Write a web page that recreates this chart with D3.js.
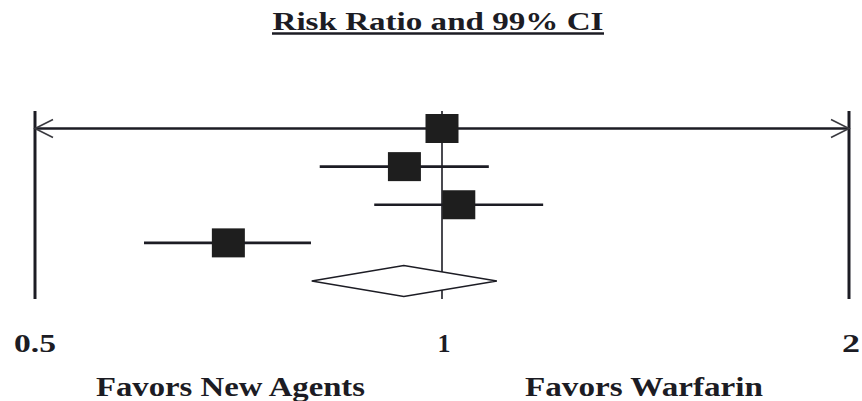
<!DOCTYPE html>
<html>
<head>
<meta charset="utf-8">
<script src="https://cdn.jsdelivr.net/npm/d3@7"></script>
<style>
  html, body { margin: 0; padding: 0; background: #fff; }
  svg { display: block; }
  text { font-family: "Liberation Serif", "Times New Roman", serif; font-weight: bold; fill: #1c1c24; }
</style>
</head>
<body>
<svg id="chart" width="862" height="401"></svg>
<script>
// Study rows: point estimate and 99% CI of the risk ratio
const studies   = ["Study 1", "Study 2", "Study 3", "Study 4"];
const rr        = [1.00, 0.938, 1.029, 0.695];
const ciLow     = [0.42, 0.812, 0.891, 0.602];
const ciHigh    = [2.40, 1.083, 1.188, 0.800];

// Pooled estimate (diamond)
const pooled    = [0.937];
const pooledLow = [0.801];
const pooledHigh= [1.098];

// Axis ticks and captions
const tickValues = [0.5, 1, 2];
const tickLabels = ["0.5", "1", "2"];
const titleText  = "Risk Ratio and 99% CI";
const sideLabels = ["Favors New Agents", "Favors Warfarin"];

const svg = d3.select("#chart");
const ink = "#1c1c24";

const x = d3.scaleLog().domain([0.5, 2]).range([35, 849]);
const rows = studies.concat(["Pooled"]);
const y = d3.scalePoint().domain(rows).range([128.5, 281]);
const yTop = 111, yBottom = 299;

// Title with underline
svg.append("text")
  .attr("x", 438).attr("y", 30)
  .attr("text-anchor", "middle")
  .attr("font-size", 26)
  .attr("textLength", 331).attr("lengthAdjust", "spacingAndGlyphs")
  .text(titleText);
svg.append("line")
  .attr("x1", 272).attr("x2", 604).attr("y1", 33.5).attr("y2", 33.5)
  .attr("stroke", ink).attr("stroke-width", 2.5);

// Boundary lines at the axis limits
svg.selectAll("line.bound").data([0.5, 2]).enter().append("line")
  .attr("class", "bound")
  .attr("x1", d => x(d)).attr("x2", d => x(d))
  .attr("y1", yTop).attr("y2", yBottom)
  .attr("stroke", ink).attr("stroke-width", 3);

// Line of no effect
svg.append("line")
  .attr("x1", x(1)).attr("x2", x(1))
  .attr("y1", yTop).attr("y2", yBottom)
  .attr("stroke", ink).attr("stroke-width", 1.6);

const [dLo, dHi] = x.domain();
const data = studies.map((s, i) => ({ s, rr: rr[i], lo: ciLow[i], hi: ciHigh[i] }));

// Confidence intervals, clipped to the axis range
svg.selectAll("line.ci").data(data).enter().append("line")
  .attr("class", "ci")
  .attr("x1", d => x(Math.max(d.lo, dLo)))
  .attr("x2", d => x(Math.min(d.hi, dHi)))
  .attr("y1", d => y(d.s)).attr("y2", d => y(d.s))
  .attr("stroke", ink).attr("stroke-width", 2.6);

// Open arrowheads where an interval runs past the axis
const arrows = [];
data.forEach(d => {
  if (d.lo < dLo) arrows.push({ s: d.s, v: dLo, dir: 1 });
  if (d.hi > dHi) arrows.push({ s: d.s, v: dHi, dir: -1 });
});
svg.selectAll("path.arrow").data(arrows).enter().append("path")
  .attr("class", "arrow")
  .attr("d", d => {
    const px = x(d.v), py = y(d.s);
    return `M${px + d.dir * 18},${py - 9}L${px},${py}L${px + d.dir * 18},${py + 9}`;
  })
  .attr("fill", "none").attr("stroke", "#3a3a40").attr("stroke-width", 1.6);

// Point estimates
const sqW = 33, sqH = 29;
svg.selectAll("rect.pt").data(data).enter().append("rect")
  .attr("class", "pt")
  .attr("x", d => x(d.rr) - sqW / 2)
  .attr("y", d => y(d.s) - sqH / 2)
  .attr("width", sqW).attr("height", sqH)
  .attr("fill", "#1e1e1e");

// Pooled diamond
const py = y("Pooled"), half = 15.5;
svg.append("path")
  .attr("d", `M${x(pooledLow[0])},${py}L${x(pooled[0])},${py - half}L${x(pooledHigh[0])},${py}L${x(pooled[0])},${py + half}Z`)
  .attr("fill", "#fff").attr("stroke", ink).attr("stroke-width", 1.3);

// Tick labels
const tickWidths = [42, null, 18];
const tickShift  = [0, 2, 2];
svg.selectAll("text.tick").data(tickValues).enter().append("text")
  .attr("class", "tick")
  .attr("x", (d, i) => x(d) + tickShift[i])
  .attr("y", 352)
  .attr("text-anchor", "middle")
  .attr("font-size", 26)
  .each(function (d, i) {
    if (tickWidths[i]) {
      d3.select(this).attr("textLength", tickWidths[i]).attr("lengthAdjust", "spacingAndGlyphs");
    }
  })
  .text((d, i) => tickLabels[i]);

// Direction captions
svg.selectAll("text.side").data(sideLabels).enter().append("text")
  .attr("class", "side")
  .attr("x", (d, i) => [230.5, 644][i])
  .attr("y", 396)
  .attr("text-anchor", "middle")
  .attr("font-size", 27)
  .attr("textLength", (d, i) => [269, 238][i])
  .attr("lengthAdjust", "spacingAndGlyphs")
  .text(d => d);
</script>
</body>
</html>
